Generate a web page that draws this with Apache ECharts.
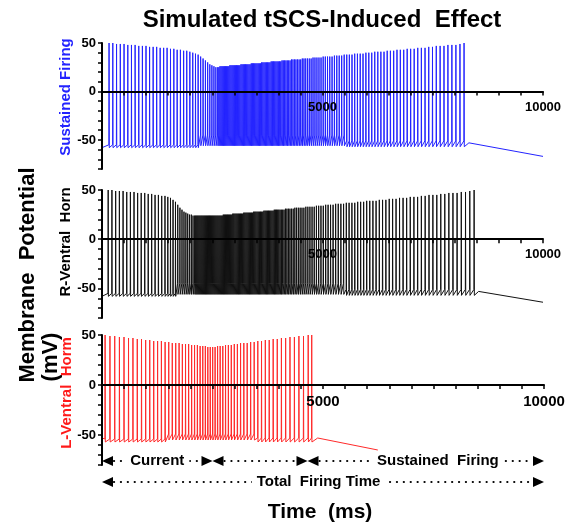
<!DOCTYPE html>
<html>
<head>
<meta charset="utf-8">
<title>Simulated tSCS-Induced Effect</title>
<script src="https://cdn.jsdelivr.net/npm/echarts@6.0.0/dist/echarts.min.js"></script>
<style>
    html, body { margin: 0; padding: 0; background: #fff; }
    #main { width: 574px; height: 523px; }
</style>
</head>
<body>
<div id="main"></div>
<script>
// spike times (ms) and spike peaks (mV)
var blueSpikeT = [
    160, 245, 330, 415, 500, 585, 668, 751, 834, 916, 998, 1079, 1160, 1240, 1319, 1398, 1476, 1553, 1629, 1704, 1778, 1851, 1922, 1992,
    2058, 2120, 2180, 2237, 2292, 2345, 2396, 2445, 2492, 2538, 2582, 2624,
    2650, 2675, 2700, 2725, 2750, 2775, 2800, 2825, 2850, 2875, 2900, 2925, 2950, 2975, 3000, 3025, 3050, 3075, 3100, 3125,
    3151, 3177, 3203, 3229, 3255, 3281, 3307, 3333, 3359, 3385, 3411, 3437, 3463, 3489, 3515, 3541, 3567, 3593,
    3620, 3647, 3674, 3701, 3728, 3755, 3782, 3809, 3836, 3863, 3890, 3917, 3944, 3971, 3998, 4025,
    4053, 4082, 4111, 4141, 4171, 4202, 4233, 4265, 4297, 4330, 4364, 4398, 4433, 4469, 4505, 4542, 4580, 4619, 4659, 4700,
    4742, 4785, 4829,
    4874, 4920, 4967, 5015, 5064, 5114, 5165, 5217, 5270, 5324, 5379, 5435, 5492, 5550, 5609, 5669, 5730, 5792, 5855, 5919,
    5984, 6050, 6117, 6185, 6254, 6324, 6395, 6467, 6540, 6614, 6689, 6765, 6842, 6920, 6999, 7079, 7160, 7242, 7325, 7409,
    7494, 7580, 7667, 7755, 7844, 7934, 8025, 8117, 8210
];
var blueSpikeV = [
    50, 50, 49, 49, 49, 48, 48, 48, 47, 47, 47, 46, 46, 46, 45, 45, 45, 44, 44, 43, 43, 42, 42, 41,
    40, 39, 38, 36, 34, 32, 30, 28, 27, 26, 25, 25,
    25, 26, 26, 26, 26, 26, 26, 26, 26, 26, 27, 27, 27, 27, 27, 27, 27, 27, 27, 27,
    28, 28, 28, 28, 28, 28, 28, 28, 28, 29, 29, 29, 29, 29, 29, 29, 29, 29,
    30, 30, 30, 30, 30, 30, 30, 30, 31, 31, 31, 31, 31, 31, 31, 31,
    31, 32, 32, 32, 32, 32, 32, 32, 33, 33, 33, 33, 33, 33, 33, 34, 34, 34, 34, 34,
    34, 35, 35,
    35, 35, 35, 36, 36, 36, 36, 36, 37, 37, 37, 37, 38, 38, 38, 38, 39, 39, 39, 39,
    40, 40, 40, 41, 41, 41, 41, 42, 42, 42, 43, 43, 43, 44, 44, 44, 45, 45, 45, 46,
    46, 47, 47, 47, 48, 48, 48, 49, 50
];
var blackSpikeT = [
    140, 225, 310, 394, 478, 561, 644, 726, 808, 889, 969, 1048, 1126, 1203, 1279, 1354, 1428,
    1492, 1553, 1611, 1666, 1718, 1767, 1814, 1859, 1902, 1944, 1985, 2025, 2064, 2102,
    2126, 2150, 2174, 2198, 2222, 2246, 2270, 2294, 2318, 2342, 2366, 2390, 2414, 2438, 2462, 2486, 2510, 2534, 2558, 2582,
    2606, 2630, 2654, 2678, 2702, 2726, 2750, 2774, 2798, 2822, 2846, 2870, 2894, 2918, 2942, 2966, 2990,
    3015, 3040, 3065, 3090, 3115, 3140, 3165, 3190, 3215, 3240, 3265, 3290, 3315, 3340, 3365, 3390, 3415, 3440, 3465, 3490,
    3516, 3542, 3568, 3594, 3620, 3646, 3672, 3698, 3724, 3750, 3776, 3802, 3828, 3854, 3880, 3906, 3932, 3958, 3984, 4010,
    4038, 4067, 4097, 4128, 4160, 4193, 4227, 4262, 4298, 4335, 4373, 4412, 4452, 4493, 4535, 4578, 4622,
    4668, 4715, 4763, 4812, 4862, 4913, 4965, 5018, 5072, 5127, 5183, 5240, 5298, 5357, 5417, 5478, 5540, 5603, 5667, 5732,
    5798, 5865, 5933, 6002, 6072, 6143, 6215, 6288, 6362, 6437, 6513, 6590, 6668, 6747, 6827, 6908, 6990, 7073, 7157, 7242,
    7328, 7415, 7503, 7592, 7682, 7773, 7865, 7958, 8052, 8147, 8243, 8340, 8438
];
var blackSpikeV = [
    50, 50, 49, 49, 49, 48, 48, 48, 47, 47, 47, 46, 46, 45, 45, 44, 44,
    43, 42, 40, 38, 35, 32, 30, 28, 27, 26, 25, 25, 24, 24,
    24, 24, 24, 24, 24, 24, 24, 24, 24, 24, 24, 24, 24, 24, 24, 24, 24, 24, 24, 24,
    24, 24, 24, 24, 24, 24, 25, 25, 25, 25, 25, 25, 25, 25, 25, 26, 26,
    26, 26, 26, 26, 26, 26, 26, 26, 27, 27, 27, 27, 27, 27, 27, 27, 27, 28, 28, 28,
    28, 28, 28, 28, 28, 28, 29, 29, 29, 29, 29, 29, 29, 29, 29, 30, 30, 30, 30, 30,
    30, 30, 30, 30, 31, 31, 31, 31, 31, 31, 32, 32, 32, 32, 32, 32, 33,
    33, 33, 33, 33, 34, 34, 34, 34, 35, 35, 35, 35, 36, 36, 36, 36, 37, 37, 37, 37,
    38, 38, 38, 39, 39, 39, 39, 40, 40, 40, 41, 41, 41, 42, 42, 42, 43, 43, 43, 44,
    44, 45, 45, 45, 46, 46, 47, 47, 47, 48, 48, 49, 50
];
var redSpikeT = [
    70, 180, 288, 394, 498, 600, 700, 798, 894, 988, 1080, 1170, 1258, 1344, 1428, 1510, 1590, 1668, 1744, 1818,
    1890, 1960, 2028, 2094, 2158, 2220, 2280, 2338, 2394, 2449, 2504, 2559, 2615, 2673, 2733, 2795, 2859, 2925, 2993, 3063,
    3135, 3209, 3285, 3363, 3443, 3525, 3609, 3695, 3783, 3873, 3965, 4059, 4155, 4253, 4353, 4455, 4559, 4665, 4745
];
var redSpikeV = [
    50, 49, 49, 48, 48, 47, 47, 46, 46, 45, 45, 44, 44, 44, 43, 43, 42, 42, 42, 41,
    41, 41, 40, 40, 40, 39, 39, 39, 38, 38, 38, 38, 39, 39, 39, 40, 40, 40, 41, 41,
    42, 42, 42, 43, 43, 44, 44, 45, 45, 46, 46, 47, 47, 48, 48, 49, 49, 50, 50
];

// level between spikes: after-spike trough and pre-spike threshold, changing at phase start times
var bluePhaseT = [0, 2200, 5500];
var blueAhp = [-58, -56, -57];
var blueThr = [-55, -45, -51];
var blackPhaseT = [0, 1700, 5500];
var blackAhp = [-58, -56, -57];
var blackThr = [-55, -45, -51];
var redPhaseT = [0, 1500, 3500];
var redAhp = [-57, -55, -57];
var redThr = [-54, -49, -53];
var startV = [-58, -58, -53];

// after firing stops
var blueTailT = [8320, 10000];
var blueTailV = [-53, -67];
var blackTailT = [8540, 10000];
var blackTailV = [-53, -64];
var redTailT = [4880, 6240];
var redTailV = [-53, -65];

var xTickLabels = [5000, 10000];
var yTickLabels = [50, 0, -50];

// arrows under the last panel
var phaseEdges = [0, 2500, 4650, 10000];
var phaseNames = ['Current', '', 'Sustained  Firing'];
var phaseNameT = [1250, 0, 7600];
var totalName = 'Total  Firing Time';

var FONT = "'Liberation Sans', Arial, Helvetica, sans-serif";
var RISE = 4, FALL = 5;
var Y_MIN = -80, Y_MAX = 50;

function phaseOf(phaseT, t) {
    var k = 0;
    for (var j = 0; j < phaseT.length; j++) {
        if (t >= phaseT[j]) k = j;
    }
    return k;
}

//把峰值序列连成膜电位曲线
function buildTrace(spikeT, spikeV, phaseT, ahp, thr, v0, tailT, tailV) {
    var pts = [[0, v0]];
    for (var i = 0; i < spikeT.length; i++) {
        var k = phaseOf(phaseT, spikeT[i]);
        pts.push([spikeT[i] - RISE, thr[k]]);
        pts.push([spikeT[i], spikeV[i]]);
        pts.push([spikeT[i] + FALL, ahp[k]]);
    }
    for (var j = 0; j < tailT.length; j++) {
        pts.push([tailT[j], tailV[j]]);
    }
    return pts;
}

var grids = [
    {left: 102, right: 31, top: 43, height: 126},
    {left: 102, right: 31, top: 190, height: 128},
    {left: 102, right: 30, top: 335, height: 130}
];

// x axis sits on 0 mV: shift it up from the grid bottom, drawn on a layer above the traces
function xAxisFor(i, size) {
    return {
        gridIndex: i, type: 'value', min: 0, max: 10000, interval: 500, zlevel: 1, z: 5,
        offset: -grids[i].height * (0 - Y_MIN) / (Y_MAX - Y_MIN),
        axisLine: {show: true, onZero: false, lineStyle: {color: '#000', width: 2}},
        axisTick: {show: true, length: 4, lineStyle: {color: '#000', width: 1.5}},
        axisLabel: {
            margin: 9, color: '#000', fontWeight: 'bold', fontSize: size, fontFamily: FONT,
            showMaxLabel: true,
            formatter: function (v) { return xTickLabels.indexOf(v) >= 0 ? String(v) : ''; }
        },
        splitLine: {show: false}
    };
}

function yAxisFor(i) {
    return {
        gridIndex: i, type: 'value', min: Y_MIN, max: Y_MAX, interval: 10, zlevel: 1, z: 5,
        axisLine: {show: true, onZero: false, lineStyle: {color: '#000', width: 2}},
        axisTick: {show: true, length: 4, lineStyle: {color: '#000', width: 1.5}},
        axisLabel: {
            margin: 6, color: '#000', fontWeight: 'bold', fontSize: 13, fontFamily: FONT,
            formatter: function (v) { return yTickLabels.indexOf(v) >= 0 ? String(v) : ''; }
        },
        splitLine: {show: false}
    };
}

function traceSeries(i, data, color) {
    return {
        type: 'line', xAxisIndex: i, yAxisIndex: i, data: data,
        symbol: 'none', showSymbol: false, smooth: false, animation: false,
        lineStyle: {color: color, width: 1}, z: 2
    };
}

function sideText(text, x, y, size, color) {
    return {
        type: 'text', x: x, y: y, rotation: Math.PI / 2, z: 20,
        style: {
            text: text, fill: color, font: 'bold ' + size + 'px ' + FONT,
            align: 'center', verticalAlign: 'middle'
        }
    };
}

var chart = echarts.init(document.getElementById('main'), null, {renderer: 'canvas'});

chart.setOption({
    animation: false,
    backgroundColor: '#fff',
    grid: grids,
    xAxis: [xAxisFor(0, 13), xAxisFor(1, 13), xAxisFor(2, 15)],
    yAxis: [yAxisFor(0), yAxisFor(1), yAxisFor(2)],
    series: [
        traceSeries(0, buildTrace(blueSpikeT, blueSpikeV, bluePhaseT, blueAhp, blueThr, startV[0], blueTailT, blueTailV), '#2323ff'),
        traceSeries(1, buildTrace(blackSpikeT, blackSpikeV, blackPhaseT, blackAhp, blackThr, startV[1], blackTailT, blackTailV), '#111111'),
        traceSeries(2, buildTrace(redSpikeT, redSpikeV, redPhaseT, redAhp, redThr, startV[2], redTailT, redTailV), '#ff2a2a')
    ]
});

//时间轴下方的箭头
function arrowRow(t0, t1, y, label, labelT) {
    var x0 = chart.convertToPixel({xAxisIndex: 2}, t0);
    var x1 = chart.convertToPixel({xAxisIndex: 2}, t1);
    var els = [];
    els.push({
        type: 'line', z: 20,
        shape: {x1: x0 + 12, y1: y, x2: x1 - 12, y2: y},
        style: {stroke: '#000', lineWidth: 2.2, lineDash: [0.1, 6.8], lineCap: 'round'}
    });
    els.push({type: 'polygon', z: 20, shape: {points: [[x0, y], [x0 + 11, y - 5], [x0 + 11, y + 5]]}, style: {fill: '#000'}});
    els.push({type: 'polygon', z: 20, shape: {points: [[x1, y], [x1 - 11, y - 5], [x1 - 11, y + 5]]}, style: {fill: '#000'}});
    if (label) {
        els.push({
            type: 'text', z: 21, x: chart.convertToPixel({xAxisIndex: 2}, labelT), y: y,
            style: {
                text: label, fill: '#000', font: 'bold 15px ' + FONT,
                align: 'center', verticalAlign: 'middle', backgroundColor: '#fff', padding: [0, 5]
            }
        });
    }
    return els;
}

var graphics = [
    {
        type: 'text', x: 322, y: 20, z: 20,
        style: {text: 'Simulated tSCS-Induced  Effect', fill: '#000', font: 'bold 24px ' + FONT, align: 'center', verticalAlign: 'middle'}
    },
    {
        type: 'text', x: 320, y: 512, z: 20,
        style: {text: 'Time  (ms)', fill: '#000', font: 'bold 21px ' + FONT, align: 'center', verticalAlign: 'middle'}
    },
    sideText('Membrane  Potential', 28, 275, 22, '#000'),
    sideText('(mV)', 51, 357, 22, '#000'),
    sideText('Sustained Firing', 66, 97, 15, '#2323ff'),
    sideText('R-Ventral  Horn', 66, 242, 15, '#000'),
    sideText('L-Ventral  Horm', 67, 393, 15, '#ff1a1a')
];
for (var p = 0; p < phaseNames.length; p++) {
    graphics = graphics.concat(arrowRow(phaseEdges[p], phaseEdges[p + 1], 461, phaseNames[p], phaseNameT[p]));
}
graphics = graphics.concat(arrowRow(phaseEdges[0], phaseEdges[phaseEdges.length - 1], 482, totalName,
    (phaseEdges[0] + phaseEdges[phaseEdges.length - 1]) / 2 - 100));

chart.setOption({graphic: graphics});
</script>
</body>
</html>
